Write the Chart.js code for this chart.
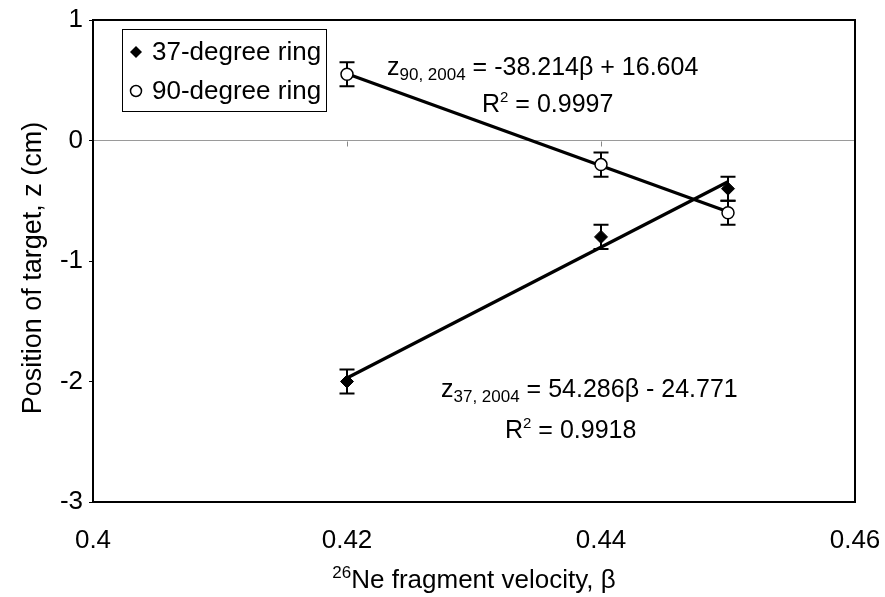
<!DOCTYPE html>
<html><head><meta charset="utf-8">
<script src="https://cdn.jsdelivr.net/npm/chart.js@4.4.1/dist/chart.umd.min.js"></script>
<style>html,body{margin:0;padding:0;background:#fff}#wrap{width:885px;height:597px}</style>
</head><body><div id="wrap"><canvas id="c" width="885" height="597"></canvas></div>
<script>
// ---- data ----
const velocities = [0.42, 0.44, 0.45];
const z37 = [-2.0, -0.8, -0.4];
const z90 = [0.55, -0.2, -0.6];
const err37 = [0.1, 0.1, 0.1];
const err90 = [0.1, 0.1, 0.1];
const trendX = [0.42, 0.45];
const trend37 = [-1.971, -0.342];
const trend90 = [0.554, -0.592];
const xTicks = [0.4, 0.42, 0.44, 0.46];
const xTickLabels = ['0.4', '0.42', '0.44', '0.46'];
const yTicks = [-3, -2, -1, 0, 1];
const yTickLabels = ['-3', '-2', '-1', '0', '1'];
const seriesNames = ['37-degree ring', '90-degree ring'];
const eq37 = {sub: '37, 2004', rest: ' = 54.286\u03b2 - 24.771', r2: '0.9918'};
const eq90 = {sub: '90, 2004', rest: ' = -38.214\u03b2 + 16.604', r2: '0.9997'};
const xTitleSup = '26';
const xTitleMain = 'Ne fragment velocity, \u03b2';
const yTitle = 'Position of target, z (cm)';

const FONT = "'Liberation Sans', Arial, sans-serif";
const pts = (xs, ys) => xs.map((x, i) => ({x: x, y: ys[i]}));

const errorBars = {
  id: 'errorBars',
  beforeDatasetsDraw(chart) {
    const {ctx, scales: {x, y}} = chart;
    ctx.save();
    // small tick marks on the zero line
    ctx.strokeStyle = '#888'; ctx.lineWidth = 1;
    const y0 = Math.round(y.getPixelForValue(0)) + 0.5;
    xTicks.slice(1, -1).forEach(v => {
      const px = Math.round(x.getPixelForValue(v)) + 0.5;
      ctx.beginPath(); ctx.moveTo(px, y0); ctx.lineTo(px, y0 + 5); ctx.stroke();
    });
    ctx.strokeStyle = '#000'; ctx.lineWidth = 2;
    [[z37, err37], [z90, err90]].forEach(([ys, es]) => {
      velocities.forEach((v, i) => {
        const px = x.getPixelForValue(v);
        const top = y.getPixelForValue(ys[i] + es[i]);
        const bot = y.getPixelForValue(ys[i] - es[i]);
        ctx.beginPath();
        ctx.moveTo(px, top); ctx.lineTo(px, bot);
        ctx.moveTo(px - 7.5, top); ctx.lineTo(px + 7.5, top);
        ctx.moveTo(px - 7.5, bot); ctx.lineTo(px + 7.5, bot);
        ctx.stroke();
      });
    });
    ctx.restore();
  }
};

function drawEq(ctx, x, base, sub, rest) {
  ctx.font = '25px ' + FONT;
  ctx.fillText('z', x, base);
  x += ctx.measureText('z').width;
  ctx.font = '17px ' + FONT;
  ctx.fillText(sub, x, base + 5);
  x += ctx.measureText(sub).width;
  ctx.font = '25px ' + FONT;
  ctx.fillText(rest, x, base);
}
function drawR2(ctx, x, base, val) {
  ctx.font = '25px ' + FONT;
  ctx.fillText('R', x, base);
  x += ctx.measureText('R').width;
  ctx.font = '15px ' + FONT;
  ctx.fillText('2', x, base - 10);
  x += ctx.measureText('2').width;
  ctx.font = '25px ' + FONT;
  ctx.fillText(' = ' + val, x, base);
}

const decor = {
  id: 'decor',
  afterDraw(chart) {
    const {ctx, chartArea: a} = chart;
    ctx.save();
    // plot frame
    ctx.strokeStyle = '#000'; ctx.lineWidth = 2;
    ctx.strokeRect(a.left, a.top, a.right - a.left, a.bottom - a.top);
    // legend
    ctx.lineWidth = 1;
    ctx.strokeRect(122.5, 29.5, 204, 82);
    const rows = [52, 91];
    ctx.fillStyle = '#000';
    ctx.beginPath();
    ctx.moveTo(136, rows[0] - 6); ctx.lineTo(142, rows[0]); ctx.lineTo(136, rows[0] + 6); ctx.lineTo(130, rows[0]);
    ctx.closePath(); ctx.fill();
    ctx.beginPath(); ctx.arc(136, rows[1], 5.5, 0, Math.PI * 2);
    ctx.fillStyle = '#fff'; ctx.fill(); ctx.lineWidth = 1.5; ctx.strokeStyle = '#000'; ctx.stroke();
    ctx.fillStyle = '#000';
    ctx.font = '26px ' + FONT; ctx.textBaseline = 'middle'; ctx.textAlign = 'left';
    ctx.fillText(seriesNames[0], 152, rows[0] + 1);
    ctx.fillText(seriesNames[1], 152, rows[1] + 1);
    // equations
    ctx.textBaseline = 'alphabetic';
    drawEq(ctx, 387, 75, eq90.sub, eq90.rest);
    drawR2(ctx, 482, 112, eq90.r2);
    drawEq(ctx, 441, 397, eq37.sub, eq37.rest);
    drawR2(ctx, 505, 438, eq37.r2);
    // x title
    ctx.font = '26px ' + FONT;
    const wMain = ctx.measureText(xTitleMain).width;
    ctx.font = '17px ' + FONT;
    const wSup = ctx.measureText(xTitleSup).width;
    const tx = (a.left + a.right) / 2 - (wMain + wSup) / 2;
    ctx.fillText(xTitleSup, tx, 578);
    ctx.font = '26px ' + FONT;
    ctx.fillText(xTitleMain, tx + wSup, 588);
    // y title
    ctx.font = '27px ' + FONT;
    ctx.translate(34, 268);
    ctx.rotate(-Math.PI / 2);
    ctx.textAlign = 'center'; ctx.textBaseline = 'middle';
    ctx.fillText(yTitle, 0, 0);
    ctx.restore();
  }
};

new Chart(document.getElementById('c'), {
  type: 'scatter',
  data: {
    datasets: [
      {label: seriesNames[0], data: pts(velocities, z37), pointStyle: 'rectRot', pointRadius: 6.5,
       backgroundColor: '#000', borderColor: '#000', borderWidth: 1, order: 0},
      {label: seriesNames[1], data: pts(velocities, z90), pointStyle: 'circle', pointRadius: 6,
       backgroundColor: '#fff', borderColor: '#000', borderWidth: 1.5, order: 0},
      {type: 'line', label: 'trend37', data: pts(trendX, trend37), borderColor: '#000', borderWidth: 3.2,
       pointRadius: 0, fill: false, order: 1},
      {type: 'line', label: 'trend90', data: pts(trendX, trend90), borderColor: '#000', borderWidth: 3.2,
       pointRadius: 0, fill: false, order: 1}
    ]
  },
  options: {
    responsive: false, animation: false, devicePixelRatio: 1,
    layout: {padding: {left: 0, top: 20, right: 30, bottom: 0}},
    plugins: {legend: {display: false}, tooltip: {enabled: false}},
    scales: {
      x: {
        type: 'linear', min: 0.4, max: 0.46,
        afterBuildTicks: s => { s.ticks = xTicks.map(v => ({value: v})); },
        afterFit: s => { s.height = 95; s.paddingLeft = 0; s.paddingRight = 0; },
        grid: {display: false, drawTicks: false},
        border: {display: false},
        ticks: {padding: 23, color: '#000', font: {family: FONT, size: 26},
                callback: (v, i) => xTickLabels[i], maxRotation: 0, autoSkip: false}
      },
      y: {
        type: 'linear', min: -3, max: 1,
        afterBuildTicks: s => { s.ticks = yTicks.map(v => ({value: v})); },
        afterFit: s => { s.width = 93; s.paddingTop = 0; s.paddingBottom = 0; },
        grid: {drawOnChartArea: true, drawTicks: true, tickLength: 4,
               color: c => (c.tick && c.tick.value === 0) ? '#9a9a9a' : 'rgba(0,0,0,0)',
               tickColor: '#000', lineWidth: 1},
        border: {display: false},
        ticks: {padding: 6, color: '#000', font: {family: FONT, size: 26},
                callback: (v, i) => yTickLabels[i], autoSkip: false}
      }
    }
  },
  plugins: [errorBars, decor]
});
</script>
</body></html>
